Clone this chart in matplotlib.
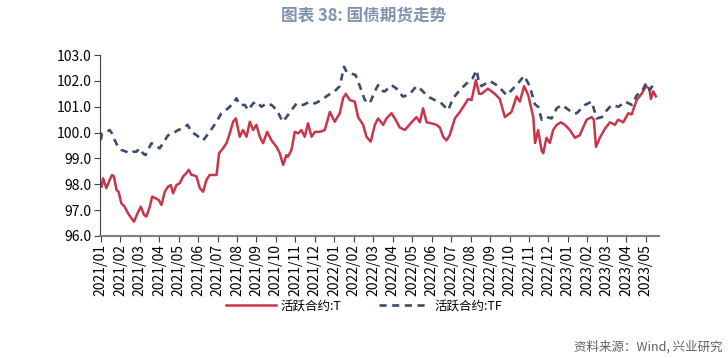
import numpy as np
import matplotlib
matplotlib.use("Agg")
import matplotlib.pyplot as plt

plt.rcParams['font.family'] = ['Liberation Sans Narrow', 'Noto Sans CJK SC', 'DejaVu Sans']

# Datos: tiempo en meses desde 2021/01 y precios de los contratos activos
t_T = [0.04, 0.12, 0.29, 0.46, 0.58, 0.68, 0.81, 0.92, 1.06, 1.23, 1.40, 1.58, 1.71, 1.89,
       2.06, 2.23, 2.35, 2.52, 2.64, 2.81, 2.98, 3.12, 3.29, 3.46, 3.60, 3.72, 3.89, 4.06,
       4.23, 4.40, 4.52, 4.66, 4.74, 4.92, 5.09, 5.26, 5.43, 5.60, 5.77, 5.95, 6.08, 6.28,
       6.46, 6.63, 6.80, 6.94, 7.14, 7.31, 7.49, 7.66, 7.83, 8.00, 8.17, 8.34, 8.55, 8.77,
       9.03, 9.20, 9.37, 9.54, 9.62, 9.80, 9.97, 10.14, 10.31, 10.48, 10.65, 10.83, 11.00,
       11.25, 11.51, 11.77, 12.02, 12.28, 12.45, 12.59, 12.80, 13.05, 13.22, 13.48, 13.65,
       13.87, 14.08, 14.25, 14.51, 14.68, 14.94, 15.11, 15.36, 15.62, 15.97, 16.22, 16.39,
       16.56, 16.74, 16.99, 17.25, 17.42, 17.59, 17.76, 17.93, 18.19, 18.45, 18.71, 18.87,
       19.05, 19.27, 19.44, 19.56, 19.89, 20.25, 20.50, 20.76, 21.10, 21.36, 21.53, 21.75,
       21.96, 22.22, 22.31, 22.47, 22.65, 22.73, 22.90, 23.07, 23.24, 23.42, 23.64, 23.84,
       24.10, 24.36, 24.61, 24.78, 24.96, 25.22, 25.33, 25.44, 25.64, 25.90, 26.16, 26.41,
       26.58, 26.84, 27.10, 27.27, 27.53, 27.78, 28.01, 28.18, 28.26, 28.38, 28.52]
T = [97.91, 98.23, 97.85, 98.17, 98.36, 98.30, 97.78, 97.71, 97.26, 97.13, 96.88, 96.68, 96.55, 96.88,
     97.13, 96.81, 96.75, 97.13, 97.52, 97.46, 97.39, 97.20, 97.71, 97.91, 97.97, 97.65, 97.97, 98.04,
     98.30, 98.43, 98.56, 98.36, 98.36, 98.30, 97.85, 97.71, 98.17, 98.36, 98.36, 98.36, 99.20, 99.39,
     99.59, 99.97, 100.42, 100.55, 99.84, 100.10, 99.84, 100.42, 100.10, 100.30, 99.84, 99.59, 100.03, 99.70,
     99.45, 99.20, 98.75, 99.13, 99.07, 99.33, 100.03, 99.97, 100.10, 99.84, 100.36, 99.84, 100.03,
     100.03, 100.10, 100.80, 100.42, 100.75, 101.33, 101.50, 101.26, 101.20, 100.60, 100.30, 99.84,
     99.65, 100.30, 100.55, 100.30, 100.55, 100.75, 100.55, 100.20, 100.10, 100.40, 100.60, 100.40,
     100.94, 100.40, 100.36, 100.30, 100.20, 99.84, 99.70, 99.90, 100.55, 100.80, 101.10, 101.30,
     101.26, 102.03, 101.50, 101.50, 101.70, 101.50, 101.30, 100.60, 100.80, 101.40, 101.20, 101.80,
     101.45, 100.60, 99.60, 100.10, 99.30, 99.20, 99.80, 99.60, 100.10, 100.30, 100.40, 100.30,
     100.10, 99.80, 99.90, 100.20, 100.50, 100.60, 100.50, 99.45, 99.80, 100.15, 100.40, 100.30,
     100.50, 100.40, 100.75, 100.70, 101.26, 101.50, 101.80, 101.70, 101.30, 101.60, 101.40]

t_TF = [0.00, 0.07, 0.29, 0.46, 0.58, 0.72, 0.89, 1.06, 1.32, 1.49, 1.66, 1.83, 2.00, 2.17,
        2.30, 2.43, 2.61, 2.77, 3.03, 3.20, 3.46, 3.72, 3.97, 4.23, 4.46, 4.57, 4.66, 4.92,
        5.26, 5.60, 5.95, 6.20, 6.54, 6.80, 6.97, 7.14, 7.40, 7.57, 7.83, 8.00, 8.26, 8.51,
        8.77, 9.06, 9.34, 9.54, 9.80, 10.06, 10.40, 10.74, 11.00, 11.34, 11.68, 12.02, 12.28,
        12.50, 12.63, 13.09, 13.31, 13.57, 13.82, 14.08, 14.25, 14.51, 14.60, 14.94, 15.20,
        15.53, 15.88, 16.22, 16.48, 16.82, 17.16, 17.51, 17.85, 18.10, 18.45, 18.79, 19.10,
        19.31, 19.44, 19.56, 19.99, 20.42, 20.85, 21.36, 21.75, 22.04, 22.30, 22.47, 22.65,
        22.90, 23.16, 23.42, 23.68, 23.93, 24.27, 24.45, 24.87, 25.22, 25.48, 25.74, 26.00,
        26.25, 26.60, 26.94, 27.29, 27.54, 27.80, 28.01, 28.21, 28.42]
TF = [99.71, 99.97, 100.03, 100.10, 99.97, 99.71, 99.45, 99.33, 99.26, 99.20, 99.26, 99.26, 99.39, 99.20,
      99.13, 99.33, 99.59, 99.52, 99.39, 99.59, 99.90, 99.97, 100.10, 100.16, 100.30, 100.16, 100.03, 99.90,
      99.70, 100.03, 100.42, 100.75, 100.94, 101.13, 101.33, 101.07, 101.07, 100.87, 101.13, 101.20, 101.00, 101.13,
      101.07, 100.87, 100.42, 100.60, 100.87, 101.13, 101.07, 101.20, 101.13, 101.26, 101.45, 101.60, 101.80,
      102.55, 102.35, 102.23, 101.80, 101.26, 101.13, 101.60, 101.84, 101.60, 101.60, 101.84, 101.70,
      101.39, 101.50, 101.80, 101.65, 101.39, 101.26, 101.13, 100.87, 101.33, 101.65, 101.90, 102.10,
      102.42, 101.90, 101.80, 102.00, 101.80, 101.45, 101.84, 102.20, 101.80, 101.10, 101.00, 100.50,
      100.60, 100.55, 100.94, 101.07, 100.94, 100.75, 100.75, 101.07, 101.20, 100.55, 100.60, 100.87,
      101.07, 101.00, 101.20, 101.07, 101.45, 101.60, 101.90, 101.65, 101.90]

meses = ['2021/01', '2021/02', '2021/03', '2021/04', '2021/05', '2021/06', '2021/07', '2021/08',
         '2021/09', '2021/10', '2021/11', '2021/12', '2022/01', '2022/02', '2022/03', '2022/04',
         '2022/05', '2022/06', '2022/07', '2022/08', '2022/09', '2022/10', '2022/11', '2022/12',
         '2023/01', '2023/02', '2023/03', '2023/04', '2023/05']

clr_T = '#C9364A'
clr_TF = '#3B4D6E'

fig = plt.figure(figsize=(7.28, 3.58), dpi=100)
ax = fig.add_axes([0.137, 0.341, 0.768, 0.505])

ax.plot(t_T, T, '-', color=clr_T, lw=1.8, label='活跃合约:T')
ax.plot(t_TF, TF, '--', color=clr_TF, lw=1.9, dashes=(2.7, 2.1), label='活跃合约:TF')

ax.set_xlim(-0.05, 28.67)
ax.set_ylim(96, 103)
ax.set_yticks(np.arange(96, 103.5, 1))
ax.set_yticklabels([f'{v:.1f}' for v in np.arange(96, 103.5, 1)], fontsize=10)
ax.set_xticks(range(len(meses)))
ax.set_xticklabels(meses, rotation=90, fontsize=10)

for s in ['top', 'right']:
    ax.spines[s].set_visible(False)
ax.spines['left'].set_color('#404040')
ax.spines['bottom'].set_color('#808080')
ax.spines['bottom'].set_linewidth(1.5)
ax.tick_params(axis='both', direction='out', length=4, color='#404040', pad=2)

fig.legend(loc='center', bbox_to_anchor=(0.5, 0.145), ncol=2, frameon=False,
           prop={'family': ['Noto Sans CJK SC', 'DejaVu Sans'], 'size': 9},
           handlelength=4.0, columnspacing=3.0, handletextpad=0.4)

fig.text(0.5, 0.958, '图表 38: 国债期货走势', ha='center', va='center', fontsize=12,
         fontweight='bold', color='#7F93B0', family=['Noto Sans CJK SC', 'DejaVu Sans'])
fig.text(0.992, 0.03, '资料来源：Wind, 兴业研究', ha='right', va='center', fontsize=9,
         color='#606060', family=['Noto Sans CJK SC', 'DejaVu Sans'])

fig.savefig('out.png', dpi=100)
